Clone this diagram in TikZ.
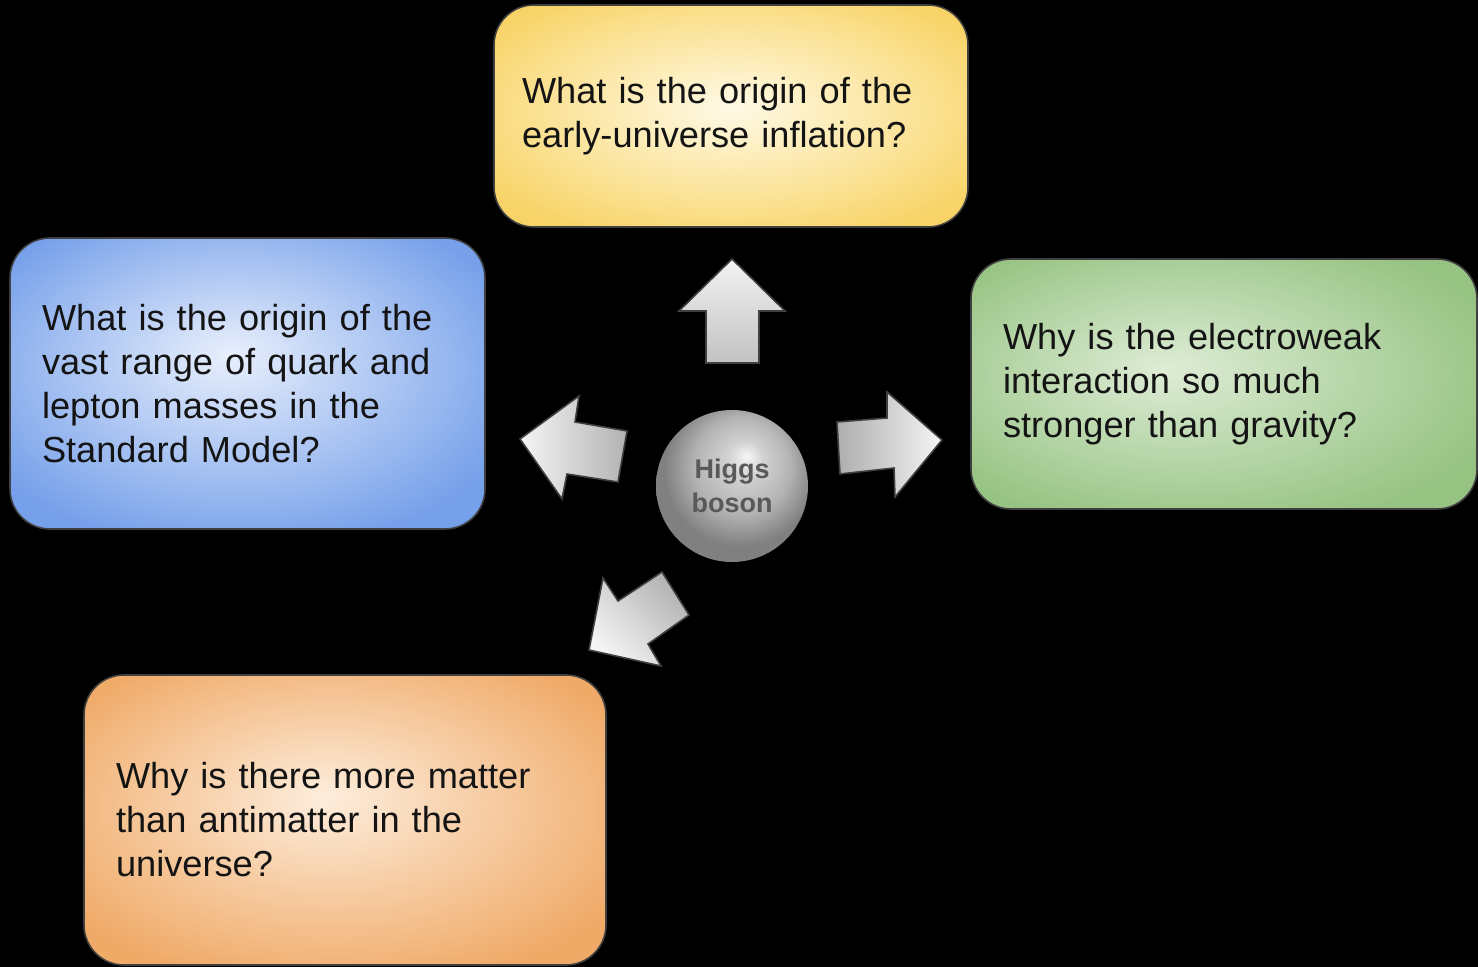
\documentclass[tikz,border=0pt]{standalone}
\usepackage{fontspec}
\setmainfont{Liberation Sans}
\definecolor{yellowedge}{RGB}{248,212,104}
\definecolor{yellowmid}{RGB}{255,250,230}
\definecolor{blueedge}{RGB}{118,160,234}
\definecolor{bluemid}{RGB}{232,239,252}
\definecolor{greenedge}{RGB}{150,195,130}
\definecolor{greenmid}{RGB}{222,236,214}
\definecolor{orangeedge}{RGB}{240,170,104}
\definecolor{orangemid}{RGB}{253,237,220}
\pgfdeclareradialshading{yellowglow}{\pgfpoint{0bp}{2bp}}{%
  color(0bp)=(yellowmid); color(31bp)=(yellowedge); color(50bp)=(yellowedge)}
\pgfdeclareradialshading{blueglow}{\pgfpoint{-2bp}{5bp}}{%
  color(0bp)=(bluemid); color(31bp)=(blueedge); color(50bp)=(blueedge)}
\pgfdeclareradialshading{greenglow}{\pgfpoint{-6bp}{3bp}}{%
  color(0bp)=(greenmid); color(31bp)=(greenedge); color(50bp)=(greenedge)}
\pgfdeclareradialshading{orangeglow}{\pgfpoint{-2bp}{4bp}}{%
  color(0bp)=(orangemid); color(31bp)=(orangeedge); color(50bp)=(orangeedge)}
\pgfdeclareradialshading{higgsball}{\pgfpoint{5bp}{10bp}}{%
  color(0bp)=(white!96!black); color(6bp)=(black!18); color(16bp)=(black!30);
  color(25bp)=(black!50); color(50bp)=(black!50)}
\begin{document}
\begin{tikzpicture}
	[x=0.5pt, y=-0.5pt,
	question/.style={rounded corners=20pt, draw=black!75, line width=0.8pt,
		align=left, inner xsep=16pt, text=black!92,
		font=\fontsize{18.1pt}{22pt}\selectfont},
	blockarrow/.style={draw=black!75, line width=0.8pt, line join=miter},
	higgs/.style={circle, shading=higgsball, minimum size=76pt, inner sep=0pt,
		align=center, text=black!65, font=\fontsize{13.5pt}{17pt}\selectfont\bfseries}]
	\fill[black] (0,0) rectangle (1478,967);
	\useasboundingbox (0,0) rectangle (1478,967);
	% the four questions
	\node (inflation) [question, shading=yellowglow, inner xsep=14pt,
		text width=209pt, minimum height=111pt] at (731,116)
		{What is the origin of the\\early-universe inflation?};
	\node (masses) [question, shading=blueglow,
		text width=205.5pt, minimum height=145.5pt] at (247.5,383.5)
		{What is the origin of the\\vast range of quark and\\lepton masses in the\\Standard Model?};
	\node (gravity) [question, shading=greenglow,
		text width=221pt, minimum height=125pt] at (1224,384)
		{Why is the electroweak\\interaction so much\\stronger than gravity?};
	\node (matter) [question, shading=orangeglow,
		text width=229pt, minimum height=145pt] at (345,820)
		{Why is there more matter\\than antimatter in the\\universe?};
	% centre
	\node (boson) [higgs] at (732,486) {Higgs\\boson};
	% block arrows
	\shadedraw[blockarrow, top color=white!95!black, bottom color=black!24]
		(732,259) -- (785,311) -- (759,311) -- (759,363) -- (706,363) -- (706,311) -- (679,311) -- cycle;
	\shadedraw[blockarrow, left color=black!32, right color=white!96!black]
		(942,440) -- (895,497) -- (894,468) -- (840,474) -- (837,422) -- (887,418) -- (887,392) -- cycle;
	\shadedraw[blockarrow, left color=white!96!black, right color=black!30]
		(520,439) -- (579,396) -- (575,422) -- (627,431) -- (618,482) -- (567,474) -- (562,499) -- cycle;
	\shadedraw[blockarrow, top color=white!96!black, bottom color=black!30, shading angle=135]
		(589,650) -- (603,578) -- (618,601) -- (662,572) -- (689,615) -- (648,644) -- (661,666) -- cycle;
\end{tikzpicture}
\end{document}
